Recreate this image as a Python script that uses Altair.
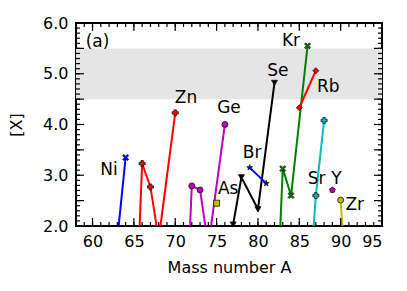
import altair as alt
import pandas as pd

# ---- data ----
elements = ["Ni", "Zn", "Ge", "As", "Se", "Br", "Kr", "Rb", "Sr", "Y", "Zr"]
ni_mass, ni_val = [62, 64], [0.15, 3.35]
zn_mass, zn_val = [64, 66, 67, 68, 70], [-4.8, 3.23, 2.77, 1.74, 4.23]
ge_mass, ge_val = [70, 72, 73, 74, 76], [-4.9, 2.79, 2.71, 1.6, 4.0]
as_mass, as_val = [75], [2.45]
se_mass, se_val = [77, 78, 80, 82], [2.03, 2.96, 2.33, 4.82]
br_mass, br_val = [79, 81], [3.15, 2.84]
kr_mass, kr_val = [82, 83, 84, 86], [-0.7, 3.13, 2.6, 5.55]
rb_mass, rb_val = [85, 87], [4.33, 5.06]
sr_mass, sr_val = [86, 87, 88], [0.3, 2.6, 4.08]
y_mass, y_val = [89], [2.71]
zr_mass, zr_val = [90, 91], [2.51, 0.0]

label_text = ["Ni", "Zn", "Ge", "As", "Se", "Br", "Kr", "Rb", "Sr", "Y", "Zr", "(a)"]
label_x = [62.0, 71.3, 76.5, 76.4, 82.4, 79.3, 84.0, 88.5, 87.1, 89.5, 91.7, 60.6]
label_y = [3.11, 4.52, 4.32, 2.73, 5.05, 3.44, 5.64, 4.74, 2.92, 2.92, 2.42, 5.62]

band_low, band_high = [4.5], [5.5]

x_major = [60, 65, 70, 75, 80, 85, 90, 95]
x_minor = list(range(58, 96))
y_major = [2.0, 2.5, 3.0, 3.5, 4.0, 4.5, 5.0, 5.5, 6.0]
y_minor = [round(2.0 + 0.1 * i, 1) for i in range(41)]

# ---- styles ----
colors = ["#0000ff", "#ff0000", "#bf00bf", "#bfbf00", "#000000", "#0000ff",
          "#008000", "#ff0000", "#00bfbf", "#bf00bf", "#bfbf00"]
XSHAPE = "M-1,-0.6L-0.6,-1L0,-0.4L0.6,-1L1,-0.6L0.4,0L1,0.6L0.6,1L0,0.4L-0.6,1L-1,0.6L-0.4,0Z"
STAR = ("M0,-1L0.235,-0.324L0.951,-0.309L0.38,0.124L0.588,0.809L0,0.4"
        "L-0.588,0.809L-0.38,0.124L-0.951,-0.309L-0.235,-0.324Z")
PENT = "M0,-1L0.951,-0.309L0.588,0.809L-0.588,0.809L-0.951,-0.309Z"
shapes = [XSHAPE, "cross", "circle", "square", "triangle-down", STAR,
          XSHAPE, "diamond", "cross", PENT, "circle"]

W, H = 306, 203

series = {
    "Ni": (ni_mass, ni_val), "Zn": (zn_mass, zn_val), "Ge": (ge_mass, ge_val),
    "As": (as_mass, as_val), "Se": (se_mass, se_val), "Br": (br_mass, br_val),
    "Kr": (kr_mass, kr_val), "Rb": (rb_mass, rb_val), "Sr": (sr_mass, sr_val),
    "Y": (y_mass, y_val), "Zr": (zr_mass, zr_val),
}
rows = []
for el in elements:
    m, v = series[el]
    for a, b in zip(m, v):
        rows.append({"el": el, "A": a, "X": b})
df = pd.DataFrame(rows)

xs = alt.Scale(domain=[58, 95], nice=False, zero=False)
ys = alt.Scale(domain=[2, 6], nice=False, zero=False)
col = alt.Scale(domain=elements, range=colors)
shp = alt.Scale(domain=elements, range=shapes)

band = alt.Chart(pd.DataFrame({"lo": band_low, "hi": band_high})).mark_rect(
    color="#e5e5e5").encode(
    x=alt.value(0), x2=alt.value(W),
    y=alt.Y("lo:Q", scale=ys, title="[X]",
            axis=alt.Axis(values=y_major, format=".1f", titleX=-52)),
    y2="hi:Q")

lines = alt.Chart(df).mark_line(strokeWidth=2, clip=True).encode(
    x=alt.X("A:Q", scale=xs, title="Mass number A", axis=alt.Axis(values=x_major)),
    y=alt.Y("X:Q", scale=ys),
    color=alt.Color("el:N", scale=col, legend=None),
    detail="el:N")

points = alt.Chart(df).mark_point(filled=True, size=36, opacity=1, stroke="#111111",
                                  strokeWidth=0.8, clip=True).encode(
    x=alt.X("A:Q", scale=xs),
    y=alt.Y("X:Q", scale=ys),
    color=alt.Color("el:N", scale=col, legend=None),
    shape=alt.Shape("el:N", scale=shp, legend=None))

labels = alt.Chart(pd.DataFrame({"t": label_text, "x": label_x, "y": label_y})).mark_text(
    fontSize=17, font="DejaVu Sans", color="black").encode(
    x=alt.X("x:Q", scale=xs), y=alt.Y("y:Q", scale=ys), text="t:N")


def xticks(vals, length):
    d = pd.DataFrame({"v": vals})
    bot = alt.Chart(d).mark_rule(color="black", strokeWidth=1.2).encode(
        x=alt.X("v:Q", scale=xs), y=alt.value(H), y2=alt.value(H - length))
    top = alt.Chart(d).mark_rule(color="black", strokeWidth=1.2).encode(
        x=alt.X("v:Q", scale=xs), y=alt.value(0), y2=alt.value(length))
    return [bot, top]


def yticks(vals, length):
    d = pd.DataFrame({"v": vals})
    left = alt.Chart(d).mark_rule(color="black", strokeWidth=1.2).encode(
        y=alt.Y("v:Q", scale=ys), x=alt.value(0), x2=alt.value(length))
    right = alt.Chart(d).mark_rule(color="black", strokeWidth=1.2).encode(
        y=alt.Y("v:Q", scale=ys), x=alt.value(W), x2=alt.value(W - length))
    return [left, right]


tick_layers = xticks(x_minor, 4) + xticks(x_major, 8) + yticks(y_minor, 4) + yticks(y_major, 8)

chart = alt.layer(band, lines, points, labels, *tick_layers).properties(
    width=W, height=H,
    autosize=alt.AutoSizeParams(type="none"),
    padding={"left": 68, "top": 15, "right": 17, "bottom": 57},
).configure_view(stroke="black", strokeWidth=2).configure_axis(
    grid=False, domain=False, ticks=False, labelFontSize=16, titleFontSize=16,
    labelFont="DejaVu Sans", titleFont="DejaVu Sans", labelColor="black",
    titleColor="black", titleFontWeight="normal", labelPadding=8, titlePadding=8
).configure_axisX(labelPadding=7, titlePadding=10)

chart.save("out.html", embed_options={"renderer": "svg", "actions": False})
